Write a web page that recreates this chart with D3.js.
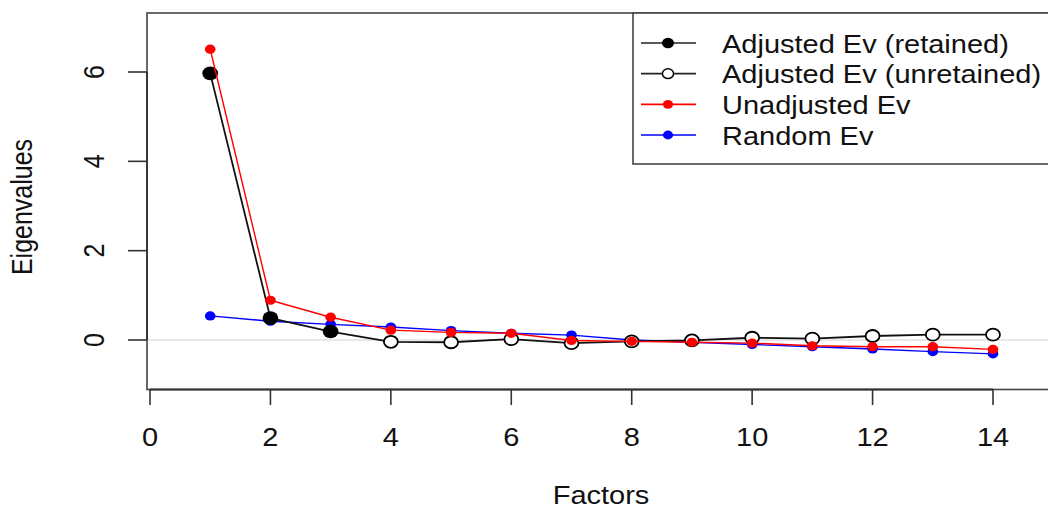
<!DOCTYPE html>
<html>
<head>
<meta charset="utf-8">
<script src="https://cdn.jsdelivr.net/npm/d3@7"></script>
<style>
  html, body { margin: 0; padding: 0; background: #fff; }
  svg { display: block; }
  text { font-family: "Liberation Sans", Arial, Helvetica, sans-serif; fill: #111; }
</style>
</head>
<body>
<svg id="chart" width="1048" height="509"></svg>
<script>
// Parallel analysis scree plot data
const factors    = [1, 2, 3, 4, 5, 6, 7, 8, 9, 10, 11, 12, 13, 14];
const adjusted   = [5.97, 0.49, 0.19, -0.04, -0.05, 0.02, -0.07, -0.03, -0.01, 0.05, 0.03, 0.09, 0.12, 0.12];
const unadjusted = [6.51, 0.89, 0.51, 0.22, 0.17, 0.15, -0.01, -0.03, -0.05, -0.07, -0.13, -0.15, -0.15, -0.21];
const randomEv   = [0.54, 0.42, 0.35, 0.29, 0.21, 0.15, 0.11, 0.00, -0.05, -0.10, -0.15, -0.20, -0.26, -0.31];
const retained   = 3;
const xTicks = [0, 2, 4, 6, 8, 10, 12, 14];
const yTicks = [0, 2, 4, 6];
const legendLabels = ["Adjusted Ev (retained)", "Adjusted Ev (unretained)", "Unadjusted Ev", "Random Ev"];

// horizontal stretch applied to glyphs and markers
const SX = 1.16;
const FS = 25;

const svg = d3.select("#chart");
const box = { left: 147, top: 13, right: 1054, bottom: 389.5 };

const x = d3.scaleLinear().domain([0, 14]).range([150, 993]);
const y = d3.scaleLinear().domain([0, 6]).range([340, 72]);

function stretchedText(g, tx, ty, str, anchor, rotate) {
  return g.append("text")
    .attr("transform", `translate(${tx},${ty})` + (rotate ? ` rotate(${rotate}) scale(1,${SX})` : ` scale(${SX},1)`))
    .attr("text-anchor", anchor)
    .style("font-size", FS + "px")
    .text(str);
}

// zero reference line
svg.append("line")
  .attr("x1", box.left).attr("x2", box.right)
  .attr("y1", y(0)).attr("y2", y(0))
  .attr("stroke", "#d2d2d2").attr("stroke-width", 1.2);

// series lines
const line = d3.line().x((d, i) => x(factors[i])).y(d => y(d));

function drawSeries(values, color, width) {
  svg.append("path").datum(values)
    .attr("d", line).attr("fill", "none")
    .attr("stroke", color).attr("stroke-width", width)
    .attr("stroke-linejoin", "round");
}

// random (blue)
drawSeries(randomEv, "#0000ff", 1.4);
svg.append("g").selectAll("ellipse").data(randomEv).join("ellipse")
  .attr("cx", (d, i) => x(factors[i])).attr("cy", d => y(d))
  .attr("rx", 4.6 * SX).attr("ry", 4.6).attr("fill", "#0000ff");

// adjusted (black)
drawSeries(adjusted, "#111", 1.8);
svg.append("g").selectAll("ellipse").data(adjusted).join("ellipse")
  .attr("cx", (d, i) => x(factors[i])).attr("cy", d => y(d))
  .attr("rx", (d, i) => (i < retained ? 6.8 : 6.0) * SX)
  .attr("ry", (d, i) => (i < retained ? 6.8 : 6.0))
  .attr("fill", (d, i) => i < retained ? "#000" : "#fff")
  .attr("stroke", "#000")
  .attr("stroke-width", (d, i) => i < retained ? 0 : 1.8);

// unadjusted (red)
drawSeries(unadjusted, "#ff0000", 1.4);
svg.append("g").selectAll("ellipse").data(unadjusted).join("ellipse")
  .attr("cx", (d, i) => x(factors[i])).attr("cy", d => y(d))
  .attr("rx", 4.6 * SX).attr("ry", 4.6).attr("fill", "#ff0000");

// plot box
svg.append("rect")
  .attr("x", box.left).attr("y", box.top)
  .attr("width", box.right - box.left).attr("height", box.bottom - box.top)
  .attr("fill", "none").attr("stroke", "#444").attr("stroke-width", 1.6);

// x axis
const xAxis = svg.append("g");
xAxis.append("line")
  .attr("x1", x(0)).attr("x2", x(14)).attr("y1", box.bottom).attr("y2", box.bottom)
  .attr("stroke", "#333").attr("stroke-width", 1.8);
xTicks.forEach(v => {
  xAxis.append("line")
    .attr("x1", x(v)).attr("x2", x(v)).attr("y1", box.bottom).attr("y2", 405)
    .attr("stroke", "#333").attr("stroke-width", 1.6);
  stretchedText(xAxis, x(v), 446, String(v), "middle");
});

// y axis
const yAxis = svg.append("g");
yAxis.append("line")
  .attr("x1", box.left).attr("x2", box.left).attr("y1", y(0)).attr("y2", y(6))
  .attr("stroke", "#333").attr("stroke-width", 1.8);
yTicks.forEach(v => {
  yAxis.append("line")
    .attr("x1", box.left).attr("x2", 128).attr("y1", y(v)).attr("y2", y(v))
    .attr("stroke", "#333").attr("stroke-width", 1.6);
  stretchedText(yAxis, 104, y(v), String(v), "middle", -90);
});

// axis titles
stretchedText(svg, 601, 504, "Factors", "middle");
stretchedText(svg, 32, 207, "Eigenvalues", "middle", -90);

// legend
const lg = svg.append("g");
lg.append("rect")
  .attr("x", 633).attr("y", box.top)
  .attr("width", 500).attr("height", 164 - box.top)
  .attr("fill", "#fff").attr("stroke", "#444").attr("stroke-width", 1.6);

const legendItems = [
  { color: "#222", fill: "#000", r: 5.2, stroke: 0 },
  { color: "#222", fill: "#fff", r: 4.8, stroke: 1.5 },
  { color: "#ff0000", fill: "#ff0000", r: 4.4, stroke: 0 },
  { color: "#0000ff", fill: "#0000ff", r: 4.4, stroke: 0 }
];
const rowY = d3.scaleLinear().domain([0, 3]).range([43, 135]);
legendItems.forEach((it, i) => {
  const ry = rowY(i);
  lg.append("line").attr("x1", 641).attr("x2", 696).attr("y1", ry).attr("y2", ry)
    .attr("stroke", it.color).attr("stroke-width", 1.6);
  lg.append("ellipse").attr("cx", 668).attr("cy", ry)
    .attr("rx", it.r * SX).attr("ry", it.r)
    .attr("fill", it.fill).attr("stroke", "#000").attr("stroke-width", it.stroke);
  stretchedText(lg, 722, ry + 9.5, legendLabels[i], "start");
});
</script>
</body>
</html>
